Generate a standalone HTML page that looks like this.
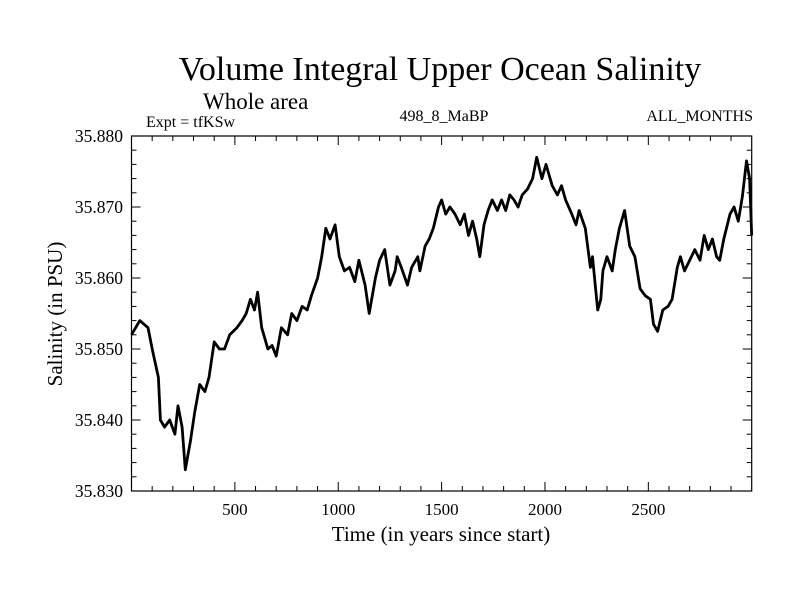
<!DOCTYPE html>
<html><head><meta charset="utf-8"><style>
body{margin:0;background:#fff}
svg text{font-family:"Liberation Serif",serif;fill:#000}
</style></head><body>
<svg id="c" width="800" height="600">
<rect width="800" height="600" fill="#fff"/>
<text x="440" y="80" font-size="34" text-anchor="middle">Volume Integral Upper Ocean Salinity</text>
<text x="203" y="109" font-size="23">Whole area</text>
<text x="146" y="127" font-size="16">Expt = tfKSw</text>
<text x="444" y="121" font-size="16" text-anchor="middle">498_8_MaBP</text>
<text x="753" y="121" font-size="16" text-anchor="end">ALL_MONTHS</text>
<text x="441" y="541" font-size="21" text-anchor="middle">Time (in years since start)</text>
<text transform="translate(62,314) rotate(-90)" font-size="21" text-anchor="middle">Salinity (in PSU)</text>
<g id="ax"></g>
</svg>
<script>
const years=[0,40,80,100,130,140,160,185,210,225,245,260,285,305,330,355,375,400,425,450,475,510,535,555,575,595,610,630,660,680,700,725,755,775,800,825,850,870,900,920,940,960,985,1005,1030,1055,1080,1100,1130,1150,1180,1200,1225,1250,1275,1285,1305,1335,1355,1385,1395,1420,1440,1460,1485,1500,1520,1540,1565,1590,1610,1630,1650,1670,1685,1705,1725,1745,1770,1790,1810,1830,1850,1870,1890,1915,1940,1960,1985,2005,2035,2060,2080,2100,2130,2150,2165,2195,2220,2230,2245,2255,2270,2280,2300,2325,2340,2360,2385,2410,2435,2460,2485,2510,2525,2545,2570,2595,2615,2640,2655,2675,2700,2725,2750,2770,2790,2810,2830,2845,2865,2895,2915,2935,2955,2975,2990,3000];
const salinity=[35.852,35.854,35.853,35.850,35.846,35.840,35.839,35.840,35.838,35.842,35.839,35.833,35.837,35.841,35.845,35.844,35.846,35.851,35.850,35.850,35.852,35.853,35.854,35.855,35.857,35.8555,35.858,35.853,35.850,35.8505,35.849,35.853,35.852,35.855,35.854,35.856,35.8555,35.8575,35.860,35.863,35.867,35.8655,35.8675,35.863,35.861,35.8615,35.8595,35.8625,35.859,35.855,35.860,35.8625,35.864,35.859,35.861,35.863,35.8615,35.859,35.8615,35.863,35.861,35.8645,35.8655,35.867,35.870,35.871,35.869,35.870,35.869,35.8675,35.869,35.866,35.868,35.8655,35.863,35.8675,35.8695,35.871,35.8695,35.871,35.8695,35.8717,35.871,35.870,35.8717,35.8725,35.874,35.877,35.874,35.876,35.873,35.8717,35.873,35.871,35.869,35.8675,35.8695,35.867,35.8615,35.863,35.8585,35.8555,35.857,35.861,35.863,35.861,35.864,35.867,35.8695,35.8645,35.863,35.8585,35.8575,35.857,35.8535,35.8525,35.8555,35.856,35.857,35.8615,35.863,35.861,35.8625,35.864,35.8625,35.866,35.864,35.8655,35.863,35.8625,35.8655,35.869,35.870,35.868,35.8715,35.8765,35.874,35.866];
const xTicks=[500,1000,1500,2000,2500];
const yTicks=[35.830,35.840,35.850,35.860,35.870,35.880];
const L=131.5,R=751.7,T=136,B=491,X0=0,X1=3000,Y0=35.830,Y1=35.880;
const sx=v=>L+(v-X0)/(X1-X0)*(R-L);
const sy=v=>B-(v-Y0)/(Y1-Y0)*(B-T);
const NS="http://www.w3.org/2000/svg",g=document.getElementById('ax');
function mk(t,a){const e=document.createElementNS(NS,t);for(const k in a)e.setAttribute(k,a[k]);g.appendChild(e);return e;}
let d='';years.forEach((y,i)=>{d+=(i?'L':'M')+sx(y).toFixed(1)+','+sy(salinity[i]).toFixed(1);});
const line=mk('path',{d:d,fill:'none',stroke:'#000','stroke-width':2.8,'stroke-linejoin':'round'});


const fr=mk('rect',{x:L,y:T,width:R-L,height:B-T,fill:'none',stroke:'#000','stroke-width':1.2});


for(let v=100;v<X1;v+=100){const x=sx(v),m=v%500===0?9:5;
mk('line',{x1:x,x2:x,y1:B,y2:B-m,stroke:'#000'});mk('line',{x1:x,x2:x,y1:T,y2:T+m,stroke:'#000'});}
for(let k=1;k<25;k++){const v=Y0+k*0.002,y=sy(v),m=k%5===0?9:5;
mk('line',{x1:L,x2:L+m,y1:y,y2:y,stroke:'#000'});mk('line',{x1:R,x2:R-m,y1:y,y2:y,stroke:'#000'});}
xTicks.forEach(v=>{const t=mk('text',{x:sx(v),y:515,'font-size':17,'text-anchor':'middle'});t.textContent=v;

});
yTicks.forEach(v=>{const t=mk('text',{x:123,y:sy(v)+6,'font-size':17.5,'text-anchor':'end'});t.textContent=v.toFixed(3);

});
</script>
</body></html>
